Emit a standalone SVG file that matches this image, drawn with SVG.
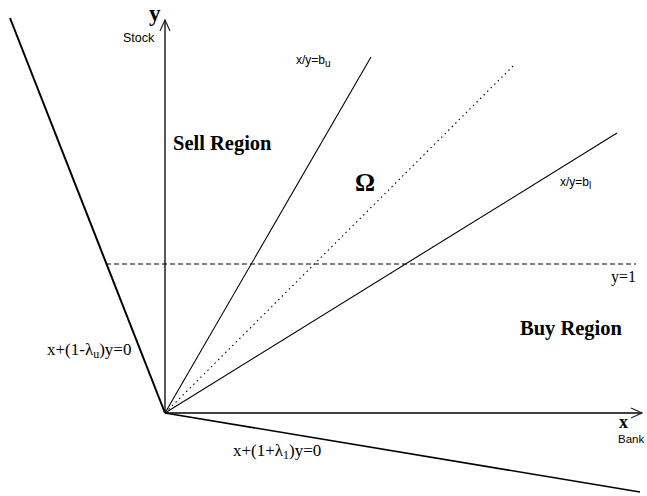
<svg xmlns="http://www.w3.org/2000/svg" width="647" height="496" viewBox="0 0 647 496">
<style>
.serif{font-family:"Liberation Serif","Times New Roman",serif;fill:#000}
.sans{font-family:"Liberation Sans",Arial,sans-serif;fill:#000}
.b{font-weight:bold}
.ln{stroke:#000;fill:none}
</style>
<defs>
<marker id="arr" markerWidth="14" markerHeight="12" refX="12" refY="6" orient="auto" markerUnits="userSpaceOnUse">
<path d="M1,1 L12,6 L1,11" fill="none" stroke="#222" stroke-width="1.2"/>
</marker>
</defs>
<rect width="647" height="496" fill="#fff"/>
<g id="connectors">
<line class="ln" x1="165" y1="413" x2="165" y2="20" stroke="#333" stroke-width="1.3" marker-end="url(#arr)"/>
<line class="ln" x1="165" y1="413" x2="642" y2="413" stroke="#333" stroke-width="1.3" marker-end="url(#arr)"/>
<line class="ln" x1="10" y1="18" x2="165" y2="413" stroke-width="2"/>
<line class="ln" x1="165" y1="413" x2="640" y2="492" stroke-width="1.6"/>
<line class="ln" x1="165" y1="413" x2="371" y2="57" stroke-width="1.1"/>
<line class="ln" x1="165" y1="413" x2="513" y2="66" stroke-width="1.1" stroke-dasharray="1.5,3.5"/>
<line class="ln" x1="165" y1="413" x2="617" y2="133" stroke-width="1.1"/>
<line class="ln" x1="106" y1="264" x2="636" y2="264" stroke-width="1" stroke-dasharray="5,3"/>
</g>
<g id="labels">
<text class="serif b" x="149" y="21" font-size="23">y</text>
<text class="sans" x="123" y="42" font-size="12.5">Stock</text>
<text class="sans" x="296" y="64" font-size="12">x/y=b<tspan font-size="10" dy="3">u</tspan></text>
<text class="serif b" x="173" y="150" font-size="20.5">Sell Region</text>
<text class="serif b" x="355" y="191" font-size="25">Ω</text>
<text class="sans" x="560" y="186" font-size="12">x/y=b<tspan font-size="10" dy="3">l</tspan></text>
<text class="serif" x="611" y="282" font-size="16">y=1</text>
<text class="serif b" x="520" y="335" font-size="20.5">Buy Region</text>
<text class="serif" x="47" y="355" font-size="17">x+(1-λ<tspan font-size="12" dy="3">u</tspan><tspan dy="-3">)y=0</tspan></text>
<text class="serif" x="233" y="456" font-size="17">x+(1+λ<tspan font-size="12" dy="3">1</tspan><tspan dy="-3">)y=0</tspan></text>
<text class="serif b" x="619" y="428" font-size="18">x</text>
<text class="sans" x="618" y="443" font-size="11.5">Bank</text>
</g>
</svg>
